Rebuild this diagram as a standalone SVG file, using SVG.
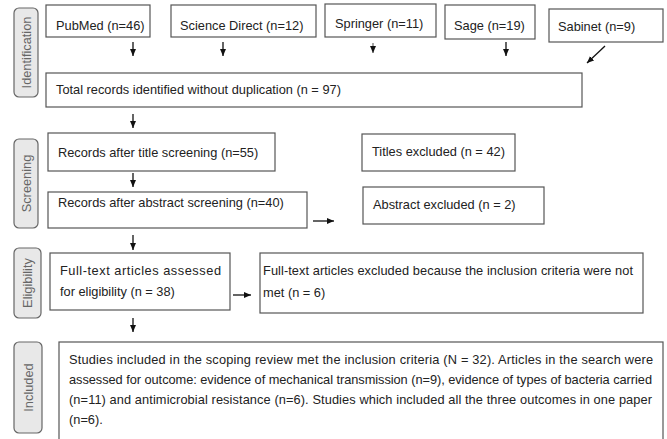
<svg xmlns="http://www.w3.org/2000/svg" width="667" height="439" viewBox="0 0 667 439">
<defs>
<style>
.box{fill:#fff;stroke:#555;stroke-width:1.2}
.lab{fill:#e8e8e8;stroke:#666;stroke-width:1.2}
.t{font-family:"Liberation Sans",Arial,sans-serif;font-size:12.8px;fill:#222}
.lt{font-family:"Liberation Sans",Arial,sans-serif;font-size:12.8px;fill:#666;text-anchor:middle;dominant-baseline:central}
.arr{stroke:#111;stroke-width:1.3;fill:none;marker-end:url(#ah)}
</style>
<marker id="ah" markerUnits="userSpaceOnUse" markerWidth="8" markerHeight="8" viewBox="0 0 8 8" refX="7" refY="4" orient="auto">
<path d="M0,1 L7,4 L0,7 Z" fill="#111"/>
</marker>
</defs>
<rect width="667" height="439" fill="#fff"/>

<g id="label-identification"><rect class="lab" x="14" y="8" width="24" height="89" rx="5"/><text class="lt" transform="translate(26,52.5) rotate(-90)">Identification</text></g>
<g id="label-screening"><rect class="lab" x="14" y="139" width="24" height="89" rx="5"/><text class="lt" transform="translate(26,183.5) rotate(-90)">Screening</text></g>
<g id="label-eligibility"><rect class="lab" x="14" y="248" width="27" height="70" rx="5"/><text class="lt" transform="translate(27.5,283) rotate(-90)">Eligibility</text></g>
<g id="label-included"><rect class="lab" x="14" y="342" width="28" height="91" rx="5"/><text class="lt" transform="translate(28,387.5) rotate(-90)">Included</text></g>

<g id="pubmed"><rect class="box" x="46" y="5" width="104" height="32"/><text class="t" x="56" y="29.5">PubMed (n=46)</text></g>
<g id="sciencedirect"><rect class="box" x="171" y="5" width="145" height="32"/><text class="t" x="180" y="29.5">Science Direct (n=12)</text></g>
<g id="springer"><rect class="box" x="325" y="4" width="111" height="33"/><text class="t" x="335" y="27.5">Springer (n=11)</text></g>
<g id="sage"><rect class="box" x="445" y="5" width="90" height="34"/><text class="t" x="454" y="29.5">Sage (n=19)</text></g>
<g id="sabinet"><rect class="box" x="549" y="9" width="114" height="33"/><text class="t" x="558" y="31">Sabinet (n=9)</text></g>

<g id="total"><rect class="box" x="46" y="73" width="536" height="34"/><text class="t" x="56" y="94">Total records identified without duplication (n = 97)</text></g>

<g id="title-screening"><rect class="box" x="48" y="133" width="227" height="38"/><text class="t" x="58" y="157">Records after title screening (n=55)</text></g>
<g id="titles-excluded"><rect class="box" x="362" y="134" width="153" height="37"/><text class="t" x="372" y="156">Titles excluded (n = 42)</text></g>
<g id="abstract-screening"><rect class="box" x="48" y="192" width="259" height="36"/><text class="t" x="58" y="207">Records after abstract screening (n=40)</text></g>
<g id="abstract-excluded"><rect class="box" x="363" y="187" width="181" height="37"/><text class="t" x="373" y="209">Abstract excluded (n = 2)</text></g>

<g id="fulltext"><rect class="box" x="50" y="253" width="180" height="57"/><text class="t" x="60" y="275" textLength="161" lengthAdjust="spacing">Full-text articles assessed</text><text class="t" x="60" y="296">for eligibility (n = 38)</text></g>
<g id="fulltext-excluded"><rect class="box" x="260" y="253" width="383" height="60"/><text class="t" x="263" y="275" textLength="370" lengthAdjust="spacing">Full-text articles excluded because the inclusion criteria were not</text><text class="t" x="263" y="297">met (n = 6)</text></g>

<g id="included"><rect class="box" x="59" y="342" width="604" height="110"/>
<text class="t" x="69" y="364" textLength="584" lengthAdjust="spacing">Studies included in the scoping review met the inclusion criteria (N = 32). Articles in the search were</text>
<text class="t" x="69" y="384" textLength="583" lengthAdjust="spacing">assessed for outcome: evidence of mechanical transmission (n=9), evidence of types of bacteria carried</text>
<text class="t" x="69" y="404" textLength="583" lengthAdjust="spacing">(n=11) and antimicrobial resistance (n=6). Studies which included all the three outcomes in one paper</text>
<text class="t" x="69" y="424">(n=6).</text></g>

<g id="connectors">
<line class="arr" x1="133" y1="42" x2="133" y2="56"/>
<line class="arr" x1="223" y1="42" x2="223" y2="56"/>
<line class="arr" x1="373" y1="43" x2="373" y2="53" style="stroke:#777"/>
<line class="arr" x1="506" y1="42" x2="506" y2="56"/>
<line class="arr" x1="605" y1="46" x2="587" y2="63"/>
<line class="arr" x1="133" y1="114" x2="133" y2="128"/>
<line class="arr" x1="133" y1="173" x2="133" y2="187"/>
<line class="arr" x1="313" y1="221" x2="334" y2="221"/>
<line class="arr" x1="133" y1="235" x2="133" y2="250"/>
<line class="arr" x1="233" y1="295" x2="251" y2="295"/>
<line class="arr" x1="133" y1="318" x2="133" y2="332"/>
</g>
</svg>
